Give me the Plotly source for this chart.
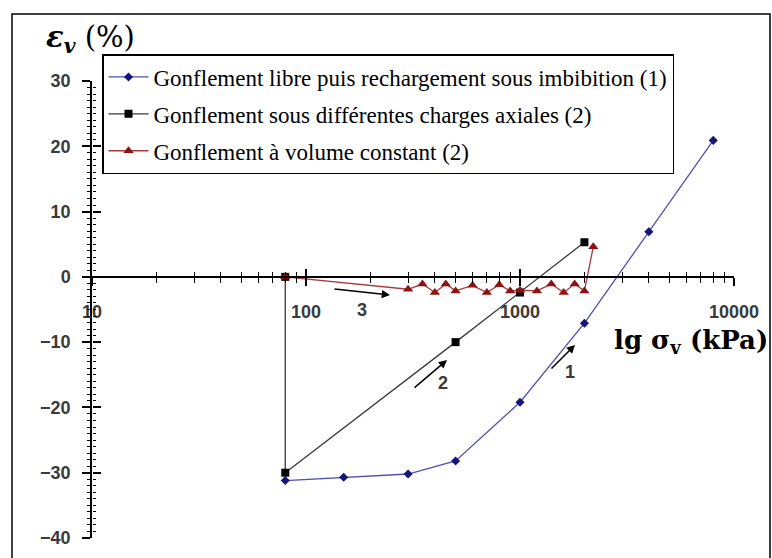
import plotly.graph_objects as go

# ---------------- data ----------------
libre_x = [80, 150, 300, 500, 1000, 2000, 4000, 8000]
libre_y = [-31.2, -30.7, -30.2, -28.2, -19.2, -7.1, 6.9, 20.9]

charges_x = [80, 80, 500, 1000, 2000]
charges_y = [0, -30.0, -10.0, -2.4, 5.3]

volcst_x = [80, 300, 350, 400, 450, 500, 600, 700, 800, 900, 1000, 1200, 1400, 1600, 1800, 2000, 2200]
volcst_y = [0, -1.9, -1.1, -2.4, -1.1, -2.15, -1.3, -2.4, -1.2, -2.15, -2.05, -2.15, -1.1, -2.4, -1.1, -2.15, 4.6]

names = [
    "Gonflement libre puis rechargement sous imbibition (1)",
    "Gonflement sous différentes charges axiales (2)",
    "Gonflement à volume constant (2)",
]

x_major = [10, 100, 1000, 10000]
x_major_text = ["10", "100", "1000", "10000"]
x_minor = [m * d for d in (10, 100, 1000) for m in range(2, 10)]
y_major = [-40, -30, -20, -10, 0, 10, 20, 30]

# ---------------- geometry ----------------
W, H = 772, 558
ML, MR, MT, MB = 92, 38, 81, 20
PW, PH = W - ML - MR, H - MT - MB
YMIN, YMAX = -40, 30


def px_to_paper_x(px):
    return (px - ML) / PW


def px_to_paper_y(py):
    return (H - MB - py) / PH


fig = go.Figure()

fig.add_trace(go.Scatter(
    x=libre_x, y=libre_y, mode="lines+markers", name=names[0], legendgroup="g1",
    line=dict(color="#5050b0", width=1.3),
    marker=dict(symbol="diamond", size=7, color="#14147a"),
))
fig.add_trace(go.Scatter(
    x=charges_x, y=charges_y, mode="lines+markers", name=names[1], legendgroup="g2",
    line=dict(color="#3a3a3a", width=1.3),
    marker=dict(symbol="square", size=8, color="#000000"),
))
fig.add_trace(go.Scatter(
    x=volcst_x, y=volcst_y, mode="lines+markers", name=names[2], legendgroup="g3",
    line=dict(color="#a83a3c", width=1.3),
    marker=dict(symbol="triangle-up", size=9, color="#8e1212"),
))
# invisible helper so that the overlay axes (inner half of crossing ticks) render
fig.add_trace(go.Scatter(
    x=[100], y=[0], xaxis="x2", yaxis="y2", mode="markers",
    marker=dict(opacity=0), showlegend=False, hoverinfo="skip",
))

tickfont = dict(family="Liberation Sans", size=18, color="#3a3a3a", weight="bold")
zero_pos = (0 - YMIN) / (YMAX - YMIN)

fig.update_layout(
    width=W, height=H,
    margin=dict(l=ML, r=MR, t=MT, b=MB, autoexpand=False),
    paper_bgcolor="white", plot_bgcolor="white",
    showlegend=True,
    xaxis=dict(
        type="log", range=[1, 4], anchor="free", position=zero_pos,
        showline=True, linecolor="black", linewidth=1.5,
        showgrid=False, zeroline=False,
        tickmode="array", tickvals=x_major, ticktext=x_major_text,
        ticks="outside", ticklen=8, tickwidth=1.5, tickcolor="black",
        ticklabelstandoff=11, tickfont=tickfont,
        minor=dict(tickmode="array", tickvals=x_minor, ticks="outside",
                   ticklen=5, tickwidth=1.2, tickcolor="black", showgrid=False),
    ),
    xaxis2=dict(
        type="log", range=[1, 4], overlaying="x", anchor="free", position=zero_pos,
        showline=False, showgrid=False, zeroline=False, showticklabels=False,
        tickmode="array", tickvals=x_major,
        ticks="inside", ticklen=8, tickwidth=1.5, tickcolor="black",
        minor=dict(tickmode="array", tickvals=x_minor, ticks="inside",
                   ticklen=5, tickwidth=1.2, tickcolor="black", showgrid=False),
    ),
    yaxis=dict(
        range=[YMIN, YMAX], anchor="x",
        showline=True, linecolor="black", linewidth=1.5,
        showgrid=False, zeroline=False,
        tickmode="array", tickvals=y_major,
        ticks="outside", ticklen=8, tickwidth=1.5, tickcolor="black",
        ticklabelstandoff=8, tickfont=tickfont,
        minor=dict(dtick=1, ticks="outside", ticklen=3, tickwidth=1,
                   tickcolor="black", showgrid=False),
    ),
    yaxis2=dict(
        range=[YMIN, YMAX], overlaying="y", anchor="free", position=0,
        showline=False, showgrid=False, zeroline=False, showticklabels=False,
        tickmode="array", tickvals=y_major,
        ticks="inside", ticklen=8, tickwidth=1.5, tickcolor="black",
        minor=dict(dtick=1, ticks="inside", ticklen=3, tickwidth=1,
                   tickcolor="black", showgrid=False),
    ),
    legend=dict(
        x=px_to_paper_x(102), y=px_to_paper_y(54), xanchor="left", yanchor="top",
        bgcolor="white", bordercolor="black", borderwidth=1.5,
        font=dict(family="Liberation Serif", size=23, color="black"),
        tracegroupgap=4, itemwidth=40,
    ),
)

# outer frame of the figure
fig.add_shape(type="rect", xref="paper", yref="paper",
              x0=px_to_paper_x(12), x1=px_to_paper_x(770),
              y0=px_to_paper_y(575), y1=px_to_paper_y(14),
              line=dict(color="black", width=1.5), fillcolor="rgba(0,0,0,0)", layer="below")

# axis titles
fig.add_annotation(
    xref="paper", yref="paper", x=px_to_paper_x(44), y=px_to_paper_y(39),
    xanchor="left", yanchor="middle", showarrow=False,
    text="<b><i>ε</i></b><sub><b><i>v</i></b></sub> (%)",
    font=dict(family="DejaVu Serif", size=29, color="black"),
)
fig.add_annotation(
    xref="paper", yref="paper", x=px_to_paper_x(612), y=px_to_paper_y(341),
    xanchor="left", yanchor="middle", showarrow=False,
    text="<b>lg σ<sub>v</sub> (kPa)</b>",
    font=dict(family="DejaVu Serif", size=26, color="black"),
)

# path arrows and their numbers (log-axis annotations use log10 x)
arrow_heads = [  # (log10 x, y, ax, ay)
    (2.3925, -2.77, -57, -6),
    (2.659, -12.73, -34, 29),
    (3.257, -10.43, -25, 25),
]
for xh, yh, ax, ay in arrow_heads:
    fig.add_annotation(x=xh, y=yh, ax=ax, ay=ay, xref="x", yref="y",
                       showarrow=True, arrowhead=2, arrowsize=1.1, arrowwidth=1.5,
                       arrowcolor="black", text="")

path_labels = [("3", 2.262, -5.07), ("2", 2.640, -16.25), ("1", 3.234, -14.57)]
for t, xl, yl in path_labels:
    fig.add_annotation(x=xl, y=yl, xref="x", yref="y", text=t, showarrow=False,
                       font=dict(family="Liberation Sans", size=18, color="#3a3a3a",
                                 weight="bold"))

fig.write_html("out.html")
